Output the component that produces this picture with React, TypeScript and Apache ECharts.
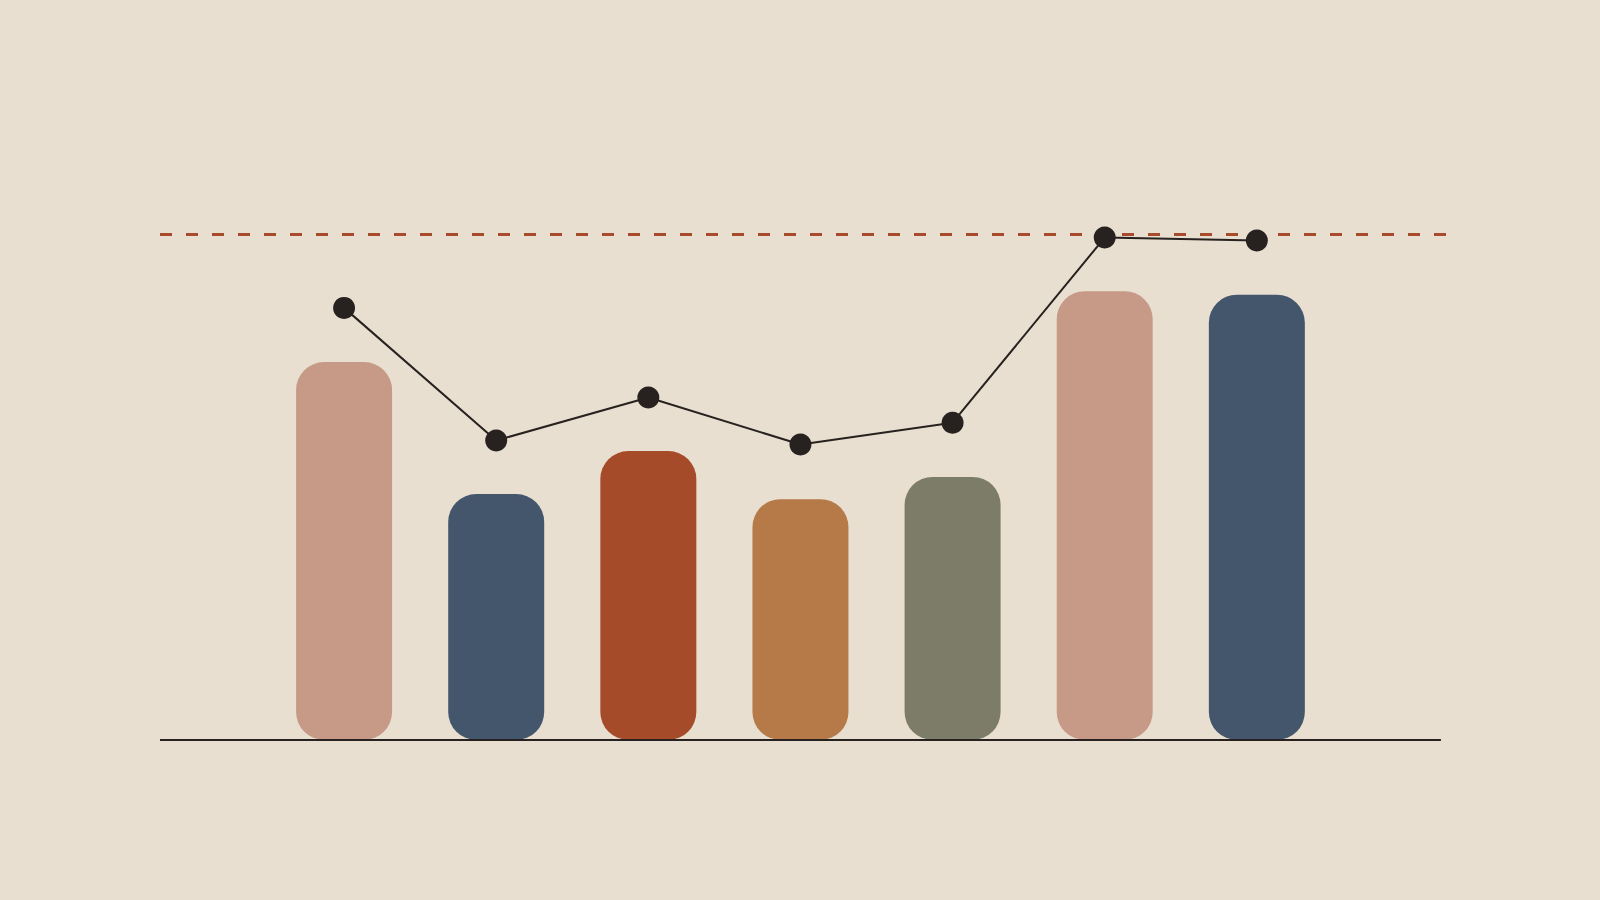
import { useEffect, useRef } from 'react';
import * as echarts from 'echarts';

// ─── Data ─────────────────────────────────────────────────────────────────────

const categories = ['A', 'B', 'C', 'D', 'E', 'F', 'G'];
const barValues = [74.7, 48.6, 57.1, 47.6, 52.0, 88.7, 88.0];
const lineValues = [85.4, 59.2, 67.7, 58.4, 62.7, 99.3, 98.7];
const barColors = ['#c79a88', '#44566b', '#a64b2a', '#b57a48', '#7c7c69', '#c79a88', '#44566b'];
const targetValue = 100;

// x range of the plot, in category units (bars sit on 0..6)
const X_MIN = -1.21;
const X_MAX = 7.25;
const BASELINE_END = 7.21;

const BG = '#e8dfd0';
const INK = '#27221f';

function buildOption(): echarts.EChartsOption {
  return {
    animation: false,
    backgroundColor: BG,
    grid: { left: 160, right: 153, top: 234, bottom: 160 },
    xAxis: {
      type: 'value',
      min: X_MIN,
      max: X_MAX,
      axisLine: { show: false },
      axisTick: { show: false },
      axisLabel: { show: false },
      splitLine: { show: false },
    },
    yAxis: {
      type: 'value',
      min: 0,
      max: targetValue,
      axisLine: { show: false },
      axisTick: { show: false },
      axisLabel: { show: false },
      splitLine: { show: false },
    },
    series: [
      {
        name: 'Bars',
        type: 'bar',
        barWidth: 96,
        z: 2,
        data: categories.map((c, i) => ({
          name: c,
          value: [i, barValues[i]],
          itemStyle: { color: barColors[i], borderRadius: 28 },
        })),
        markLine: {
          silent: true,
          z: 3,
          symbol: 'none',
          label: { show: false },
          data: [
            [
              { coord: [X_MIN, 0], lineStyle: { color: INK, width: 2, type: 'solid' } },
              { coord: [BASELINE_END, 0] },
            ],
            [
              { coord: [X_MIN, targetValue], lineStyle: { color: '#a84b2d', width: 3, type: [12, 14] } },
              { coord: [X_MAX, targetValue] },
            ],
          ],
        },
      },
      {
        name: 'Line',
        type: 'line',
        z: 10,
        data: categories.map((_, i) => [i, lineValues[i]]),
        symbol: 'circle',
        symbolSize: 22,
        itemStyle: { color: INK },
        lineStyle: { color: INK, width: 2 },
      },
    ],
  };
}

export default function App() {
  const ref = useRef<HTMLDivElement>(null);

  useEffect(() => {
    if (!ref.current) return;
    document.body.style.margin = '0';
    document.body.style.background = BG;
    const chart = echarts.init(ref.current, null, { renderer: 'svg' });
    chart.setOption(buildOption());
    return () => chart.dispose();
  }, []);

  return <div ref={ref} style={{ width: 1600, height: 900 }} />;
}
